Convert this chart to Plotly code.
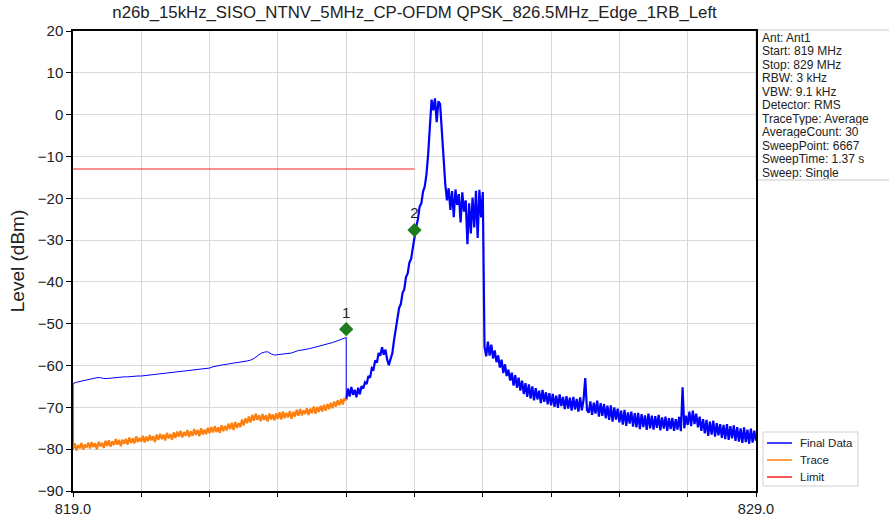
import numpy as np
import plotly.graph_objects as go

TITLE = "n26b_15kHz_SISO_NTNV_5MHz_CP-OFDM QPSK_826.5MHz_Edge_1RB_Left"
START_MHZ = 819.0
EDGE_MHZ = 823.0
STOP_MHZ = 829.0

# Orange "Trace" (819 - 823 MHz)
trace_level = [
    -79.9, -78.6, -80.3, -79.0, -79.8, -78.5, -80.1, -78.9, -79.6, -78.4,
    -79.8, -78.3, -79.5, -78.6, -80.0, -78.2, -79.3, -78.5, -79.7, -78.0,
    -79.2, -77.9, -79.4, -78.1, -79.0, -77.6, -78.9, -77.8, -79.3, -77.7,
    -78.7, -77.5, -78.9, -77.2, -78.5, -77.4, -78.6, -76.9, -78.3, -77.3,
    -78.2, -76.8, -78.4, -77.0, -78.1, -76.6, -77.9, -76.9, -78.3, -76.5,
    -77.8, -76.3, -77.6, -76.5, -77.9, -76.1, -77.4, -76.4, -77.7, -76.0,
    -77.3, -75.8, -77.0, -75.6, -77.2, -75.9, -76.8, -75.4, -77.1, -75.7,
    -76.8, -75.2, -76.6, -75.4, -76.9, -75.0, -76.5, -75.3, -76.4, -74.9,
    -76.2, -74.7, -76.0, -74.5, -75.9, -74.8, -76.1, -74.3, -75.7, -74.4,
    -75.5, -73.9, -75.2, -73.7, -75.4, -73.5, -74.9, -73.8, -74.7, -72.9,
    -74.3, -72.6, -73.8, -72.2, -73.6, -71.8, -73.2, -71.5, -73.0, -71.9,
    -73.3, -71.6, -73.0, -71.9, -73.4, -71.5, -72.9, -71.7, -73.1, -71.4,
    -72.8, -71.2, -72.9, -71.0, -72.6, -71.3, -72.4, -70.9, -72.7, -71.1,
    -72.2, -70.6, -72.0, -70.4, -71.9, -70.7, -71.6, -70.2, -71.8, -70.3,
    -71.4, -69.8, -71.5, -69.9, -71.1, -69.6, -71.0, -69.4, -70.8, -69.2,
    -70.4, -68.9, -70.2, -68.6, -69.8, -68.3, -69.5, -68.0, -69.3, -67.8,
    -68.4,
]

# Blue "Final Data": thin part 819 - 823 MHz
final_low_level = [
    -64.3, -64.0, -63.8, -63.6, -63.4, -63.2, -63.0, -62.9, -62.9, -63.1,
    -63.1, -63.0, -62.9, -62.9, -62.8, -62.7, -62.7, -62.6, -62.6, -62.5,
    -62.5, -62.4, -62.3, -62.2, -62.2, -62.0, -61.9, -61.9, -61.8, -61.7,
    -61.6, -61.5, -61.4, -61.2, -61.1, -61.0, -61.0, -60.9, -60.8, -60.7,
    -60.6, -60.3, -60.1, -59.9, -59.8, -59.7, -59.5, -59.4, -59.3, -59.2,
    -59.0, -58.9, -58.7, -58.3, -57.7, -57.1, -56.8, -56.7, -57.2, -57.5,
    -57.4, -57.3, -57.2, -57.1, -57.0, -56.7, -56.4, -56.3, -56.2, -56.0,
    -55.8, -55.6, -55.4, -55.2, -55.0, -54.8, -54.5, -54.2, -53.9, -53.6,
    -53.3,
]

# Blue "Final Data": measured part 823 - 829 MHz
final_high_level = [
    -68.2, -65.5, -67.4, -65.1, -67.0, -65.8, -67.6, -65.3, -66.9, -64.9,
    -65.5, -64.0, -64.4, -62.5, -62.9, -60.6, -60.9, -58.8, -59.3, -57.0,
    -57.6, -55.6, -57.4, -56.2, -58.6, -59.9, -58.4, -57.1, -54.0, -51.5,
    -49.5, -46.2, -45.3, -42.6, -41.8, -38.9, -38.0, -35.4, -34.5, -31.6,
    -29.5, -26.8, -25.0, -22.0, -21.2, -18.4, -17.2, -14.3, -9.5, -1.5,
    3.6, 1.0, 3.9, -1.8, 3.2, 2.5, -3.5, -12.0, -16.5, -20.5,
    -17.6, -22.8, -18.3, -24.5, -17.9, -21.6, -19.0, -25.8, -18.6, -23.2,
    -20.5, -31.0, -21.2, -28.4, -19.8, -27.0, -18.2, -29.5, -18.0, -24.6,
    -18.5, -55.5, -57.8, -54.3, -57.6, -55.0, -58.3, -56.4, -59.2, -57.6,
    -60.5, -58.6, -61.8, -59.7, -62.5, -61.0, -63.6, -61.7, -64.8, -62.3,
    -65.3, -62.9, -66.0, -63.6, -66.8, -64.2, -67.5, -64.5, -67.9, -65.0,
    -68.3, -65.4, -68.1, -66.0, -69.0, -65.8, -68.7, -66.4, -69.3, -66.6,
    -69.5, -66.8, -69.9, -67.2, -70.1, -66.9, -69.7, -67.5, -70.4, -67.3,
    -70.3, -67.7, -70.8, -67.5, -70.5, -68.0, -71.0, -67.6, -70.7, -68.2,
    -63.0, -70.6, -71.3, -68.6, -71.8, -68.9, -71.5, -68.4, -72.2, -69.0,
    -72.0, -69.2, -72.6, -69.6, -73.0, -69.5, -73.4, -70.0, -72.9, -70.3,
    -73.6, -70.8, -74.1, -70.6, -74.4, -71.2, -73.9, -71.0, -74.6, -71.4,
    -74.8, -71.3, -75.2, -71.6, -74.7, -71.9, -75.4, -71.5, -75.0, -72.0,
    -75.3, -72.1, -74.9, -71.8, -75.5, -72.4, -75.1, -72.2, -75.6, -72.6,
    -75.2, -72.5, -75.6, -72.8, -75.3, -72.3, -75.7, -65.2, -75.0, -72.0,
    -74.2, -71.0, -74.5, -70.8, -74.0, -71.5, -74.8, -72.2, -75.6, -72.8,
    -76.2, -73.0, -76.8, -73.4, -76.5, -73.2, -77.0, -73.8, -76.7, -74.0,
    -77.3, -74.2, -77.6, -74.0, -77.8, -74.5, -77.4, -74.3, -78.0, -74.7,
    -78.2, -75.0, -78.5, -74.8, -78.3, -75.3, -78.7, -75.1, -78.4, -75.6,
    -78.0,
]
final_start_level = -80.2

# Limit line
limit_freq = [819.0, 824.0]
limit_level = [-13.0, -13.0]

# Markers
marker_freq = [823.0, 824.0]
marker_level = [-51.3, -27.6]
marker_labels = ["1", "2"]

# Axis ticks
x_tick_vals = [819, 820, 821, 822, 823, 824, 825, 826, 827, 828, 829]
x_tick_text = ["819.0", "", "", "", "", "", "", "", "", "", "829.0"]
y_tick_vals = [-90, -80, -70, -60, -50, -40, -30, -20, -10, 0, 10, 20]

info_lines = [
    "Ant: Ant1", "Start: 819 MHz", "Stop: 829 MHz", "RBW: 3 kHz", "VBW: 9.1 kHz",
    "Detector: RMS", "TraceType: Average", "AverageCount: 30", "SweepPoint: 6667",
    "SweepTime: 1.37 s", "Sweep: Single",
]

legend_names = ["Final Data", "Trace", "Limit"]
BLUE, ORANGE, RED, GREEN = "#0000ff", "#ff7f0e", "#ff2020", "#1e7b1e"
legend_colors = [BLUE, ORANGE, RED]

trace_freq = np.linspace(START_MHZ, EDGE_MHZ, len(trace_level))
low_freq = np.linspace(START_MHZ, EDGE_MHZ, len(final_low_level))
high_freq = np.linspace(EDGE_MHZ, STOP_MHZ, len(final_high_level))
thin_freq = [START_MHZ] + list(low_freq) + [high_freq[0]]
thin_level = [final_start_level] + final_low_level + [final_high_level[0]]

FONT = "Liberation Sans, Arial, sans-serif"

fig = go.Figure()
fig.add_trace(go.Scatter(x=thin_freq, y=thin_level, mode="lines", name=legend_names[0],
                         line=dict(color=BLUE, width=1)))
fig.add_trace(go.Scatter(x=high_freq, y=final_high_level, mode="lines", name=legend_names[0],
                         line=dict(color=BLUE, width=2.2)))
fig.add_trace(go.Scatter(x=trace_freq, y=trace_level, mode="lines", name=legend_names[1],
                         line=dict(color=ORANGE, width=2.2)))
fig.add_trace(go.Scatter(x=limit_freq, y=limit_level, mode="lines", name=legend_names[2],
                         line=dict(color=RED, width=1)))
fig.add_trace(go.Scatter(x=marker_freq, y=marker_level, mode="markers+text", text=marker_labels,
                         textposition="top center", name="Markers",
                         textfont=dict(size=15, color="#222222", family=FONT),
                         marker=dict(symbol="diamond", size=11, color=GREEN)))

W, H = 889, 517
L, R, T, B = 73, 133, 31, 26
plot_w = W - L - R
plot_h = H - T - B


def px_x(x):
    return (x - L) / plot_w


def px_y(y):
    return (H - B - y) / plot_h


# info box
INFO_TOP, INFO_STEP = 37, 13.5
fig.add_shape(type="rect", xref="paper", yref="paper", x0=1.0, x1=1.25,
              y0=px_y(INFO_TOP + INFO_STEP * (len(info_lines) - 1) + 8), y1=px_y(30),
              line=dict(color="#c8c8c8", width=1), fillcolor="white", layer="below")
for i, txt in enumerate(info_lines):
    fig.add_annotation(xref="paper", yref="paper", x=px_x(760), y=px_y(INFO_TOP + INFO_STEP * i),
                       xanchor="left", yanchor="middle", text=txt, showarrow=False,
                       height=13, valign="middle",
                       font=dict(size=12, color="#222222", family=FONT))

# legend box (drawn)
fig.add_shape(type="rect", xref="paper", yref="paper", x0=px_x(763), x1=px_x(858),
              y0=px_y(486), y1=px_y(432),
              line=dict(color="#d0d0d0", width=1), fillcolor="white", layer="above")
for i, (name, col) in enumerate(zip(legend_names, legend_colors)):
    yy = px_y(443 + 17 * i)
    fig.add_shape(type="line", xref="paper", yref="paper", x0=px_x(767), x1=px_x(792),
                  y0=yy, y1=yy, line=dict(color=col, width=1.5), layer="above")
    fig.add_annotation(xref="paper", yref="paper", x=px_x(798), y=yy, xanchor="left",
                       yanchor="middle", text=name, showarrow=False,
                       font=dict(size=11.5, color="#222222", family=FONT))

fig.update_layout(
    width=W, height=H,
    margin=dict(l=L, r=R, t=T, b=B, autoexpand=False),
    paper_bgcolor="white", plot_bgcolor="white",
    font=dict(family=FONT, color="#222222"),
    title=dict(text=TITLE, x=(L + plot_w / 2) / W, xanchor="center",
               y=1 - 12 / H, yanchor="middle",
               font=dict(size=16.8, family=FONT, color="#222222")),
    showlegend=False,
)
fig.update_xaxes(range=[START_MHZ, STOP_MHZ], tickvals=x_tick_vals, ticktext=x_tick_text,
                 automargin=False,
                 showgrid=True, gridcolor="#d9d9d9", gridwidth=1,
                 showline=True, linecolor="black", linewidth=1.5, mirror=True,
                 ticks="outside", ticklen=4, tickcolor="black",
                 tickfont=dict(size=14.5, family=FONT), zeroline=False)
fig.update_yaxes(range=[-90, 20], tickvals=y_tick_vals, automargin=False,
                 title=dict(text="Level (dBm)", font=dict(size=19, family=FONT), standoff=8),
                 showgrid=True, gridcolor="#d9d9d9", gridwidth=1,
                 showline=True, linecolor="black", linewidth=1.5, mirror=True,
                 ticks="outside", ticklen=5, tickcolor="black",
                 tickfont=dict(size=15, family=FONT), zeroline=False)

fig.write_html("out.html", config={"displayModeBar": False},
               post_script="document.body.style.margin='0px';")
